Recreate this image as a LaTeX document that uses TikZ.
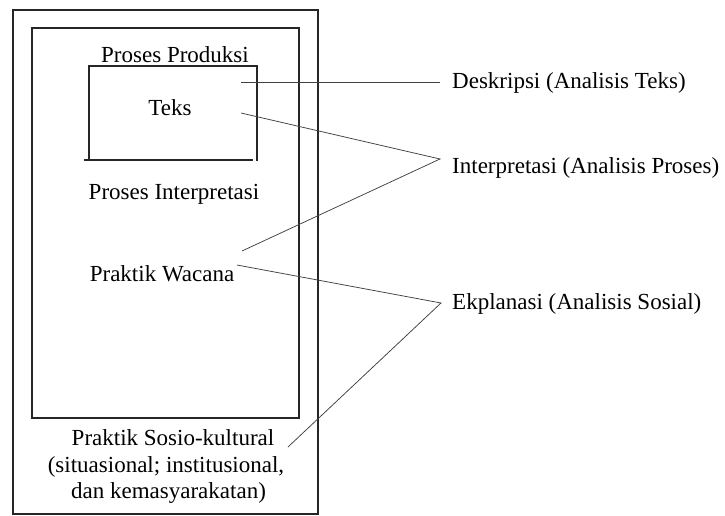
\documentclass[tikz,border=0pt]{standalone}
\usepackage{fontspec}
\setmainfont{Liberation Serif}
\begin{document}
\begin{tikzpicture}[x=1pt,y=-1pt,
  boxline/.style={draw=black!85,line width=1.1pt},
  conn/.style={draw=black!75,line width=0.75pt},
  lbl/.style={inner sep=0pt,anchor=base,font=\fontsize{23}{26}\selectfont},
  rlbl/.style={inner sep=0pt,anchor=base west,font=\fontsize{23}{26}\selectfont}]
\useasboundingbox (0,0) rectangle (725,516);
% boxes
\draw[boxline] (13,10) rectangle (318,514);
\draw[boxline] (32,28) rectangle (299,418);
\draw[boxline] (89,161) -- (89,66) -- (257,66) -- (257,161);
\draw[boxline] (84,160) -- (253,160);
% inner labels
\node[lbl] (produksi) at (175,63) {Proses Produksi};
\node[lbl] (teks) at (170,116) {Teks};
\node[lbl] (interp) at (174,199) {Proses Interpretasi};
\node[lbl] (wacana) at (162,281) {Praktik Wacana};
\node[lbl] (sosio1) at (173,445) {Praktik Sosio-kultural};
\node[lbl] (sosio2) at (166,472) {(situasional; institusional,};
\node[lbl] (sosio3) at (168.5,498) {dan kemasyarakatan)};
% right labels
\node[rlbl] (deskripsi) at (452,89) {Deskripsi (Analisis Teks)};
\node[rlbl] (interpretasi) at (452,173) {Interpretasi (Analisis Proses)};
\node[rlbl] (eksplanasi) at (452,309) {Ekplanasi (Analisis Sosial)};
% connector end points
\coordinate (jD) at (440,82);
\coordinate (jI) at (440,159);
\coordinate (jE) at (441,303);
\coordinate (tA) at (241,82);
\coordinate (tB) at (241,113);
\coordinate (wA) at (242,251);
\coordinate (wB) at (237,265);
\coordinate (sA) at (288,447);
% connectors
\draw[conn] (tA) -- (jD);
\draw[conn] (tB) -- (jI) -- (wA);
\draw[conn] (wB) -- (jE) -- (sA);
\end{tikzpicture}
\end{document}
